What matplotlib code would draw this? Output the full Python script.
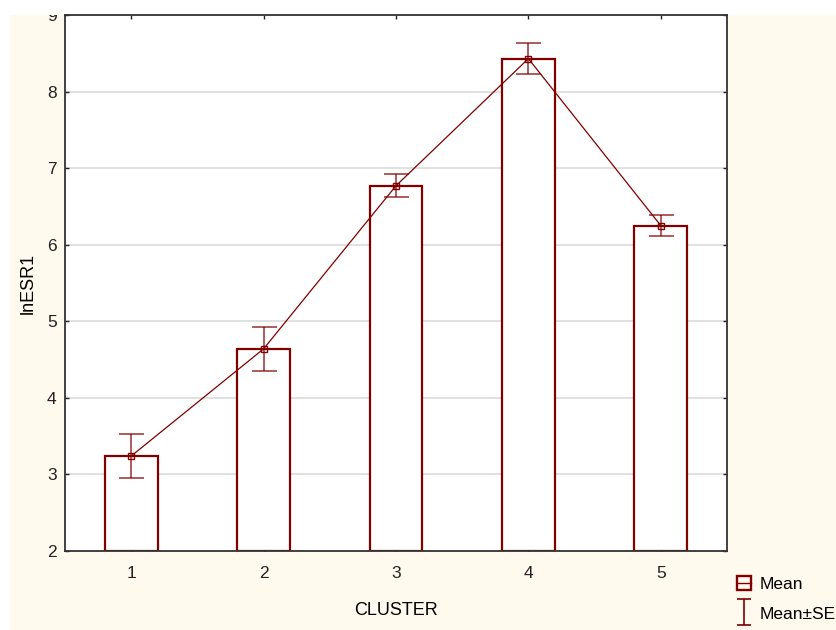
#!/usr/bin/env python3
"""
Means of lnESR1 by CLUSTER: bars with mean line and +/-SE whiskers.
"""
import matplotlib
matplotlib.use("Agg")
import matplotlib.pyplot as plt
from matplotlib.lines import Line2D
from matplotlib.patches import Rectangle
from matplotlib.path import Path

clusters = [1, 2, 3, 4, 5]
means = [3.24, 4.64, 6.77, 8.43, 6.25]
se = [0.285, 0.29, 0.15, 0.20, 0.135]
y_ticks = [2, 3, 4, 5, 6, 7, 8, 9]

RED = "#800000"
PANEL = "#FFF9EE"

plt.rcParams["font.family"] = ["Liberation Sans", "DejaVu Sans"]

fig = plt.figure(figsize=(8.36, 6.30), dpi=100, facecolor="white")
# cream panel behind the plot (top and left strips stay white)
panel = Rectangle((10 / 836, 0), 1, 615 / 630, transform=fig.transFigure,
                  facecolor=PANEL, edgecolor="none", zorder=-10)
fig.patches.append(panel)

ax = fig.add_axes([65 / 836, 79 / 630, 662 / 836, 536 / 630])
ax.set_facecolor("white")

ax.bar(clusters, [m - 2 for m in means], bottom=2, width=0.4,
       facecolor="white", edgecolor=RED, linewidth=1.6, zorder=2)
ax.errorbar(clusters, means, yerr=se, fmt="none", ecolor=RED, alpha=0.75,
            elinewidth=1.2, capsize=9, capthick=1.2, zorder=3)
ax.plot(clusters, means, color=RED, linewidth=0.9, marker="s", markersize=5,
        markerfacecolor="none", markeredgecolor=RED, markeredgewidth=1.0, zorder=4)

ax.set_xlim(0.5, 5.5)
ax.set_ylim(2, 9)
ax.set_xticks(clusters)
ax.set_yticks(y_ticks)
ax.yaxis.grid(True, color="#DCDCDC", linewidth=1.2, zorder=0)
ax.set_axisbelow(True)
ax.tick_params(direction="in", length=3, width=1, top=True, right=True,
               labelsize=12.5, colors="#222222")
ax.tick_params(axis="x", pad=11)
ax.tick_params(axis="y", pad=6)
for sp in ax.spines.values():
    sp.set_color("#333333")
    sp.set_linewidth(1.3)

ax.set_xlabel("CLUSTER", fontsize=13, labelpad=15)
ax.set_ylabel("lnESR1", fontsize=13, labelpad=7)

# tick labels above the panel get cut off
for lab in ax.get_yticklabels():
    lab.set_clip_path(panel)

# legend: mean marker with line, and an I-shaped whisker glyph
whisker = Path([(-0.5, -1), (0.5, -1), (0, -1), (0, 1), (-0.5, 1), (0.5, 1)],
               [Path.MOVETO, Path.LINETO, Path.MOVETO, Path.LINETO,
                Path.MOVETO, Path.LINETO])
handles = [
    Line2D([], [], color=RED, linewidth=1, marker="s", markersize=10,
           markerfacecolor="none", markeredgecolor=RED, markeredgewidth=1.7),
    Line2D([], [], linestyle="none", marker=whisker, markersize=19,
           markeredgecolor=RED, markerfacecolor="none", markeredgewidth=1.2),
]
fig.legend(handles, ["Mean", "Mean±SE"], loc="upper left",
           bbox_to_anchor=(734 / 836, 57 / 630), frameon=False, fontsize=12.5,
           handlelength=0.8, handletextpad=0.45, labelspacing=0.85,
           borderpad=0.2, borderaxespad=0)

fig.savefig("out.png", dpi=100, facecolor=fig.get_facecolor())
